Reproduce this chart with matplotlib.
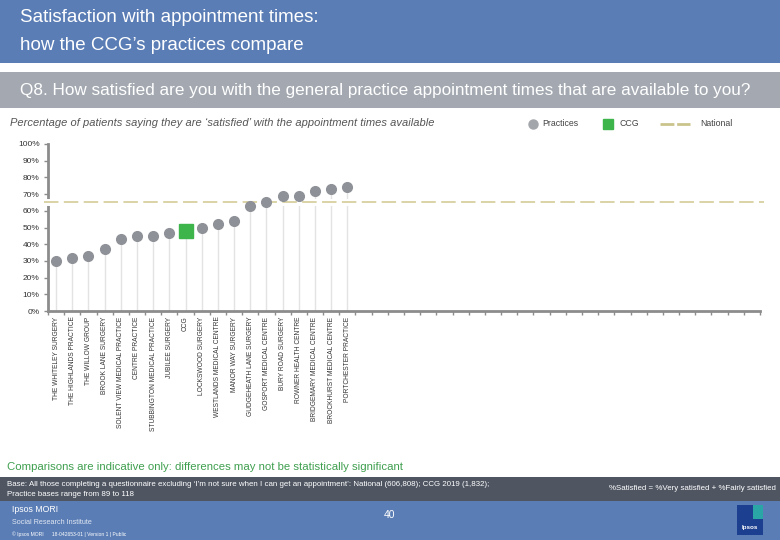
import numpy as np
import matplotlib
matplotlib.use("Agg")
import matplotlib.pyplot as plt
from matplotlib.patches import Rectangle

plt.rcParams['font.family'] = ['Liberation Sans', 'DejaVu Sans']

# data
names = ["THE WHITELEY SURGERY", "THE HIGHLANDS PRACTICE", "THE WILLOW GROUP",
         "BROOK LANE SURGERY", "SOLENT VIEW MEDICAL PRACTICE", "CENTRE PRACTICE",
         "STUBBINGTON MEDICAL PRACTICE", "JUBILEE SURGERY", "CCG",
         "LOCKSWOOD SURGERY", "WESTLANDS MEDICAL CENTRE", "MANOR WAY SURGERY",
         "GUDGEHEATH LANE SURGERY", "GOSPORT MEDICAL CENTRE", "BURY ROAD SURGERY",
         "ROWNER HEALTH CENTRE", "BRIDGEMARY MEDICAL CENTRE",
         "BROCKHURST MEDICAL CENTRE", "PORTCHESTER PRACTICE"]
values = [30, 32, 33, 37, 43, 45, 45, 47, 48, 50, 52, 54, 63, 65, 69, 69, 72, 73, 74]
national = 65
n_slots = 44
yticks = list(range(0, 101, 10))

GREY_DOT = "#8e9197"
GREEN = "#3db54a"
KHAKI = "#d8d0a0"
BLUE = "#5a7db5"

W, H = 780, 540
fig = plt.figure(figsize=(7.8, 5.4), dpi=100)

# pixel-coordinate background axes for the slide decorations
bg = fig.add_axes([0, 0, 1, 1])
bg.set_xlim(0, W)
bg.set_ylim(H, 0)
bg.axis("off")

bg.add_patch(Rectangle((0, 0), W, 63, color=BLUE, lw=0))
bg.text(20, 17, "Satisfaction with appointment times:", color="white",
        fontsize=13.5, va="center", ha="left")
bg.text(20, 45, "how the CCG\u2019s practices compare", color="white",
        fontsize=13.5, va="center", ha="left")

bg.add_patch(Rectangle((0, 72), W, 36, color="#a4a9b1", lw=0))
bg.text(20, 91, "Q8. How satisfied are you with the general practice appointment times that are available to you?",
        color="white", fontsize=12.3, va="center", ha="left")

bg.text(10, 123, "Percentage of patients saying they are \u2018satisfied\u2019 with the appointment times available",
        color="#555555", fontsize=8, style="italic", va="center", ha="left")

# legend
bg.plot(533, 124, "o", color="#a3a6ab", ms=6.5)
bg.text(542, 124, "Practices", fontsize=6.3, color="#444444", va="center")
bg.plot(608, 124, "s", color=GREEN, ms=6.5)
bg.text(619, 124, "CCG", fontsize=6.3, color="#444444", va="center")
bg.plot([660, 690], [124, 124], color="#cbc38c", lw=2, ls=(0, (5, 1)))
bg.text(700, 124, "National", fontsize=6.3, color="#444444", va="center")

bg.text(7, 467, "Comparisons are indicative only: differences may not be statistically significant",
        color="#3f9f4f", fontsize=8.2, va="center")

bg.add_patch(Rectangle((0, 477), W, 24, color="#4f5662", lw=0))
bg.text(7, 484, "Base: All those completing a questionnaire excluding \u2018I\u2019m not sure when I can get an appointment\u2019: National (606,808); CCG 2019 (1,832);",
        color="white", fontsize=5.7, va="center")
bg.text(7, 494, "Practice bases range from 89 to 118", color="white", fontsize=5.7, va="center")
bg.text(776, 488, "%Satisfied = %Very satisfied + %Fairly satisfied", color="white",
        fontsize=5.7, va="center", ha="right")

bg.add_patch(Rectangle((0, 501), W, 39, color=BLUE, lw=0))
bg.text(12, 509, "Ipsos MORI", color="white", fontsize=6.3, va="center")
bg.text(12, 522, "Social Research Institute", color="#dfe6f2", fontsize=5.2, va="center")
bg.text(12, 534, "\u00a9 Ipsos MORI      18-042653-01 | Version 1 | Public", color="white",
        fontsize=3.6, va="center")
bg.text(390, 515, "40", color="white", fontsize=7.5, va="center", ha="center")
bg.add_patch(Rectangle((737, 505), 26, 30, color="#1d3f8f", lw=0))
bg.add_patch(Rectangle((753, 505), 10, 14, color="#2aa6a6", lw=0))
bg.text(750, 527, "Ipsos", color="white", fontsize=4.5, va="center", ha="center", weight="bold")

# chart axes: x 48..760 px, y 144..311 px
ax = fig.add_axes([48 / W, 1 - 311 / H, (760 - 48) / W, (311 - 144) / H])
ax.set_facecolor("none")
x = np.arange(len(values))
ccg_idx = names.index("CCG")

ax.vlines(x, 0, values, color="#e3e3e3", lw=1, zorder=1)
ax.axhline(national, color="white", lw=5, zorder=2, xmin=-0.01, xmax=1.01, clip_on=False)
ax.axhline(national, color=KHAKI, lw=1.3, ls=(0, (8, 3)), zorder=3,
           xmin=-0.005, xmax=1.005, clip_on=False)

prac = [i for i in x if i != ccg_idx]
ax.plot(prac, [values[i] for i in prac], "o", color=GREY_DOT, ms=7, zorder=4, lw=0)
ax.plot(ccg_idx, values[ccg_idx], "s", color=GREEN, ms=10, zorder=4)

ax.set_xlim(-0.5, n_slots - 0.5)
ax.set_ylim(0, 100)

for s in ["top", "right"]:
    ax.spines[s].set_visible(False)
for s in ["left", "bottom"]:
    ax.spines[s].set_color("#8c8c8c")
    ax.spines[s].set_linewidth(2)
    ax.spines[s].set_zorder(1.5)

ax.set_yticks(yticks)
ax.set_yticklabels([f"{v}%" for v in yticks], fontsize=6, color="#333333")
ax.tick_params(axis="y", length=3, width=1, color="#8c8c8c", pad=3)

ax.set_xticks(x)
ax.set_xticklabels(names, rotation=90, fontsize=4.8, color="#333333", va="top")
ax.tick_params(axis="x", which="major", length=0, pad=4)
ax.set_xticks(np.arange(-0.5, n_slots, 1), minor=True)
ax.tick_params(axis="x", which="minor", length=3, width=1, color="#8c8c8c")

fig.savefig("out.png", dpi=100)
